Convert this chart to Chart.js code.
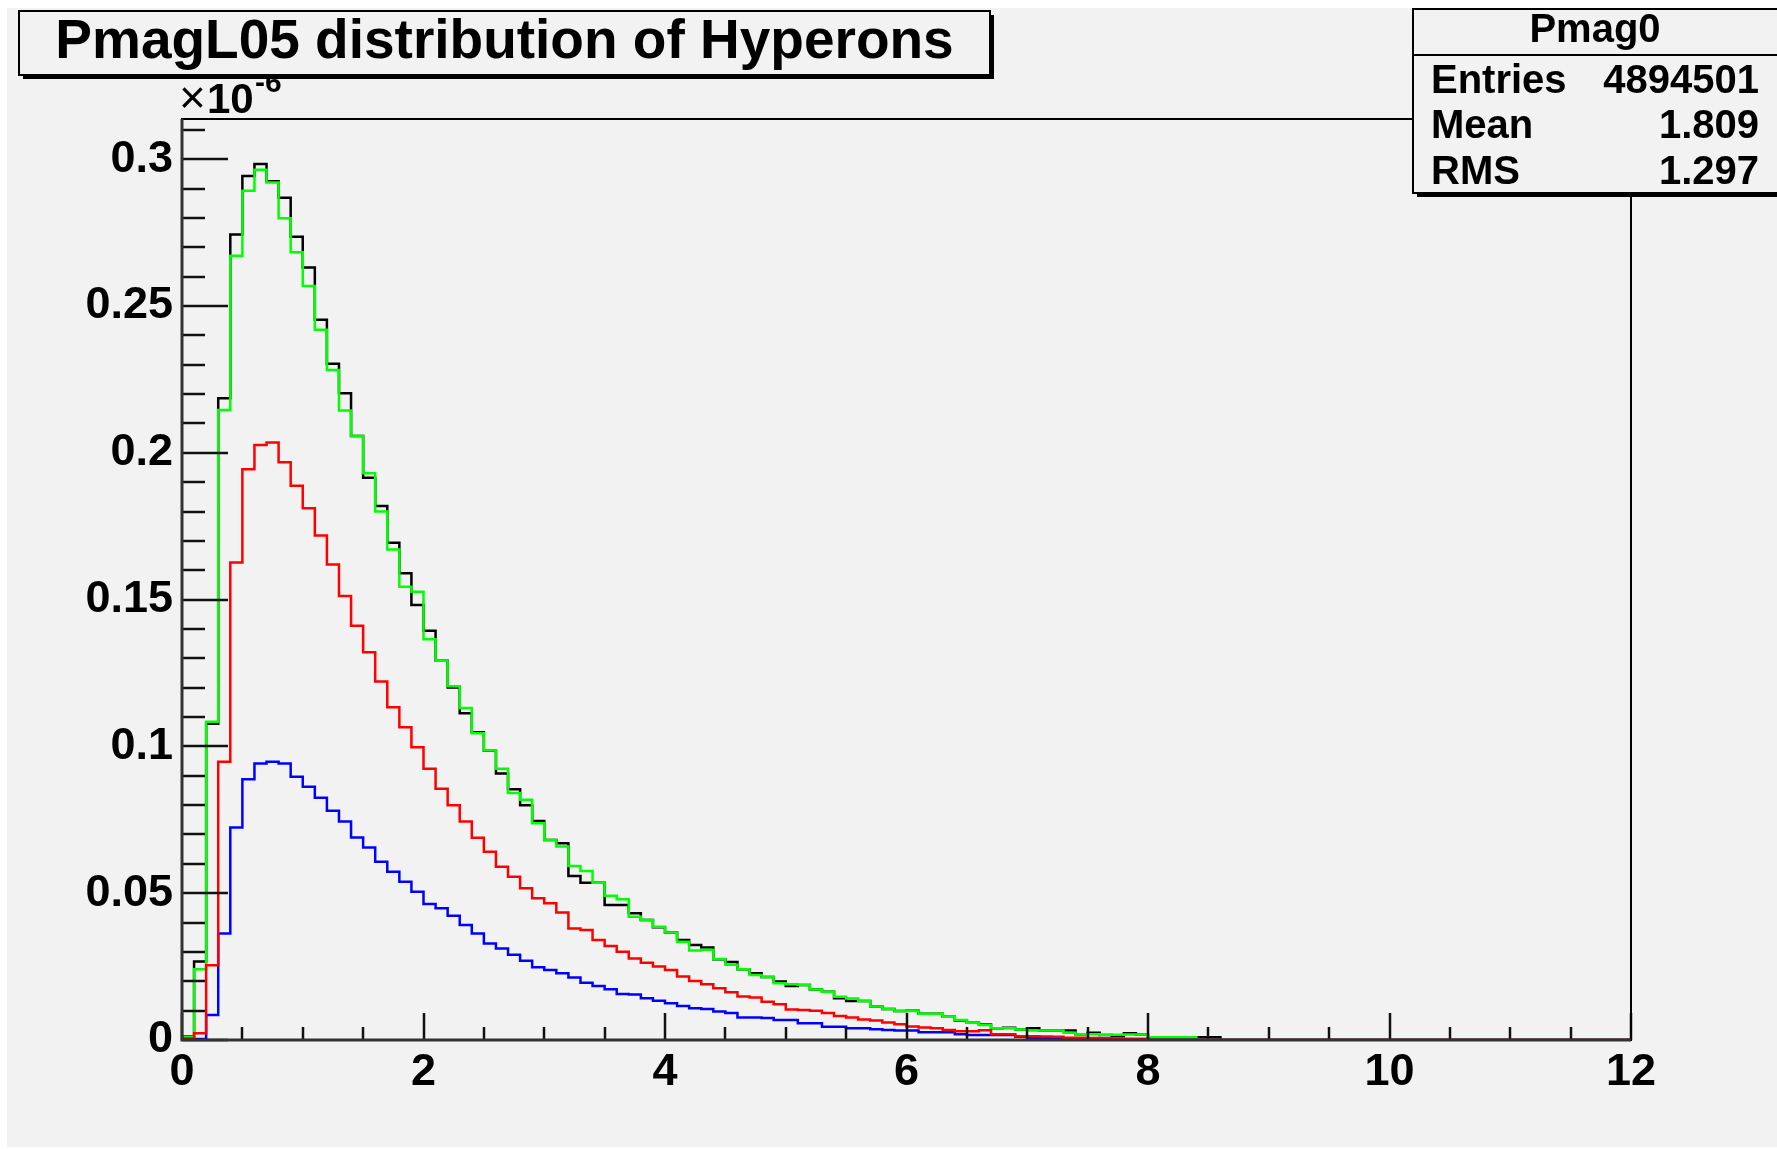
<!DOCTYPE html>
<html>
<head>
<meta charset="utf-8">
<title>PmagL05 distribution of Hyperons</title>
<script src="https://cdn.jsdelivr.net/npm/chart.js@4.4.0/dist/chart.umd.min.js"></script>
<style>
  html, body { margin: 0; padding: 0; background: #ffffff; }
  canvas { display: block; }
</style>
</head>
<body>
<canvas id="pmagChart" width="1777" height="1150"></canvas>
<script>
// histogram binning: 120 bins of 0.1 between 0 and 12
const xMin = 0;
const xMax = 12;
const binWidth = 0.1;
const yMax = 0.3137;

const xTickValues = [0, 2, 4, 6, 8, 10, 12];
const yTickValues = [0, 0.05, 0.1, 0.15, 0.2, 0.25, 0.3];

// bin contents (x10^-6), one entry per bin
const allHyperons = [
  0.0012, 0.0267, 0.1077, 0.2186, 0.2744, 0.2943, 0.2984, 0.2925, 0.2869, 0.2736,
  0.2631, 0.2453, 0.2303, 0.2203, 0.2057, 0.1915, 0.1819, 0.1694, 0.1590, 0.1482,
  0.1394, 0.1292, 0.1201, 0.1113, 0.1048, 0.0985, 0.0908, 0.0854, 0.0800, 0.0746,
  0.0681, 0.0670, 0.0559, 0.0536, 0.0536, 0.0460, 0.0460, 0.0432, 0.0409, 0.0384,
  0.0366, 0.0341, 0.0324, 0.0315, 0.0275, 0.0266, 0.0241, 0.0227, 0.0215, 0.0199,
  0.0184, 0.0187, 0.0172, 0.0164, 0.0142, 0.0133, 0.0133, 0.0114, 0.0106, 0.0099,
  0.0100, 0.0089, 0.0089, 0.0079, 0.0066, 0.0059, 0.0053, 0.0040, 0.0042, 0.0036,
  0.0040, 0.0032, 0.0032, 0.0032, 0.0020, 0.0025, 0.0017, 0.0014, 0.0023, 0.0019,
  0.0009, 0.0009, 0.0009, 0.0009, 0.0009, 0.0009, 0, 0, 0, 0,
  0, 0, 0, 0, 0, 0, 0, 0, 0, 0,
  0, 0, 0, 0, 0, 0, 0, 0, 0, 0,
  0, 0, 0, 0, 0, 0, 0, 0, 0, 0
];

const sumHyperons = [
  0.0010, 0.0241, 0.1084, 0.2146, 0.2671, 0.2893, 0.2964, 0.2921, 0.2799, 0.2683,
  0.2568, 0.2419, 0.2282, 0.2144, 0.2057, 0.1930, 0.1800, 0.1671, 0.1544, 0.1527,
  0.1365, 0.1292, 0.1205, 0.1131, 0.1045, 0.0986, 0.0924, 0.0841, 0.0818, 0.0738,
  0.0681, 0.0659, 0.0593, 0.0576, 0.0536, 0.0491, 0.0479, 0.0420, 0.0409, 0.0386,
  0.0366, 0.0335, 0.0305, 0.0307, 0.0276, 0.0256, 0.0241, 0.0221, 0.0215, 0.0193,
  0.0190, 0.0187, 0.0172, 0.0164, 0.0147, 0.0141, 0.0133, 0.0114, 0.0106, 0.0099,
  0.0099, 0.0089, 0.0089, 0.0079, 0.0068, 0.0059, 0.0051, 0.0040, 0.0040, 0.0036,
  0.0032, 0.0032, 0.0032, 0.0025, 0.0020, 0.0020, 0.0018, 0.0018, 0.0019, 0.0019,
  0.0009, 0.0009, 0.0009, 0.0009, 0, 0, 0, 0, 0, 0,
  0, 0, 0, 0, 0, 0, 0, 0, 0, 0,
  0, 0, 0, 0, 0, 0, 0, 0, 0, 0,
  0, 0, 0, 0, 0, 0, 0, 0, 0, 0
];

const lambdaPart = [
  0.0005, 0.0023, 0.0255, 0.0948, 0.1626, 0.1944, 0.2027, 0.2035, 0.1968, 0.1888,
  0.1811, 0.1718, 0.1620, 0.1512, 0.1411, 0.1321, 0.1221, 0.1133, 0.1065, 0.0997,
  0.0924, 0.0856, 0.0800, 0.0744, 0.0689, 0.0641, 0.0590, 0.0556, 0.0517, 0.0483,
  0.0466, 0.0434, 0.0380, 0.0375, 0.0341, 0.0320, 0.0301, 0.0278, 0.0263, 0.0250,
  0.0238, 0.0216, 0.0201, 0.0190, 0.0176, 0.0163, 0.0148, 0.0145, 0.0130, 0.0122,
  0.0104, 0.0102, 0.0100, 0.0092, 0.0082, 0.0077, 0.0070, 0.0066, 0.0060, 0.0054,
  0.0046, 0.0043, 0.0040, 0.0034, 0.0030, 0.0030, 0.0033, 0.0020, 0.0020, 0.0013,
  0.0013, 0.0012, 0.0011, 0.0008, 0.0008, 0.0007, 0.0006, 0.0005, 0.0003, 0.0003,
  0, 0, 0, 0, 0, 0, 0, 0, 0, 0,
  0, 0, 0, 0, 0, 0, 0, 0, 0, 0,
  0, 0, 0, 0, 0, 0, 0, 0, 0, 0,
  0, 0, 0, 0, 0, 0, 0, 0, 0, 0
];

const sigmaPart = [
  0, 0.0003, 0.0085, 0.0363, 0.0724, 0.0888, 0.0942, 0.0948, 0.0942, 0.0897,
  0.0863, 0.0825, 0.0781, 0.0744, 0.0690, 0.0656, 0.0607, 0.0573, 0.0539, 0.0505,
  0.0463, 0.0449, 0.0423, 0.0392, 0.0363, 0.0329, 0.0312, 0.0290, 0.0270, 0.0248,
  0.0238, 0.0227, 0.0213, 0.0195, 0.0184, 0.0173, 0.0157, 0.0155, 0.0142, 0.0134,
  0.0125, 0.0116, 0.0108, 0.0106, 0.0097, 0.0092, 0.0077, 0.0077, 0.0075, 0.0068,
  0.0068, 0.0057, 0.0057, 0.0045, 0.0045, 0.0040, 0.0040, 0.0037, 0.0034, 0.0032,
  0.0032, 0.0026, 0.0026, 0.0026, 0.0020, 0.0017, 0.0017, 0.0017, 0.0017, 0.0011,
  0.0006, 0.0006, 0.0006, 0.0003, 0.0003, 0.0003, 0.0003, 0.0003, 0.0003, 0.0003,
  0, 0, 0, 0, 0, 0, 0, 0, 0, 0,
  0, 0, 0, 0, 0, 0, 0, 0, 0, 0,
  0, 0, 0, 0, 0, 0, 0, 0, 0, 0,
  0, 0, 0, 0, 0, 0, 0, 0, 0, 0
];

const titleText = 'PmagL05 distribution of Hyperons';
const statsName = 'Pmag0';
const statsLabels = ['Entries', 'Mean', 'RMS'];
const statsValues = ['4894501', '1.809', '1.297'];

const FONT = '"Liberation Sans", Arial, Helvetica, sans-serif';
const BG = '#f2f2f2';

// turn bin contents into points at the low edge of each bin, closed at xMax
function toSteps(values) {
  const pts = values.map((v, i) => ({ x: xMin + i * binWidth, y: v }));
  pts.push({ x: xMax, y: values[values.length - 1] });
  return pts;
}

function histo(label, values, color, order) {
  return {
    label: label,
    data: toSteps(values),
    borderColor: color,
    backgroundColor: color,
    borderWidth: 2.5,
    stepped: 'before',
    pointRadius: 0,
    fill: false,
    order: order,
    borderJoinStyle: 'miter',
    borderCapStyle: 'butt'
  };
}

// ROOT-like canvas: grey pad, frame, inner ticks, title pave and stats box
const rootPad = {
  id: 'rootPad',
  beforeDraw(chart) {
    const ctx = chart.ctx;
    ctx.save();
    ctx.fillStyle = '#ffffff';
    ctx.fillRect(0, 0, chart.width, chart.height);
    ctx.fillStyle = BG;
    ctx.fillRect(7, 8, chart.width - 7, chart.height - 11);
    ctx.restore();
  },
  afterDatasetsDraw(chart) {
    const ctx = chart.ctx;
    const a = chart.chartArea;
    const xs = chart.scales.x;
    const ys = chart.scales.y;
    ctx.save();
    ctx.strokeStyle = '#111';
    ctx.lineWidth = 2.5;

    // y ticks, minor every 0.01, major every 0.05
    for (let k = 0; k <= 31; k++) {
      const py = Math.round(ys.getPixelForValue(k / 100));
      const len = k % 5 === 0 ? 46 : 23;
      ctx.beginPath();
      ctx.moveTo(a.left, py);
      ctx.lineTo(a.left + len, py);
      ctx.stroke();
    }
    // x ticks, minor every 0.5, major every 2
    for (let k = 0; k <= 24; k++) {
      const px = Math.round(xs.getPixelForValue(k * 0.5));
      const len = k % 4 === 0 ? 27 : 13;
      ctx.beginPath();
      ctx.moveTo(px, a.bottom);
      ctx.lineTo(px, a.bottom - len);
      ctx.stroke();
    }

    // frame
    ctx.strokeStyle = '#000';
    ctx.lineWidth = 2;
    ctx.strokeRect(a.left, a.top, a.right - a.left, a.bottom - a.top);
    ctx.lineWidth = 3;
    ctx.strokeStyle = '#333';
    ctx.beginPath();
    ctx.moveTo(a.left, a.top);
    ctx.lineTo(a.left, a.bottom);
    ctx.lineTo(a.right, a.bottom);
    ctx.stroke();

    // axis exponent
    ctx.fillStyle = '#000';
    ctx.textBaseline = 'alphabetic';
    ctx.textAlign = 'left';
    ctx.font = '46px ' + FONT;
    ctx.fillText('\u00d7', a.left - 3, a.top - 6);
    ctx.font = 'bold 42px ' + FONT;
    ctx.fillText('10', a.left + 25, a.top - 6);
    ctx.font = 'bold 30px ' + FONT;
    ctx.fillText('-6', a.left + 73, a.top - 27);
    ctx.restore();
  },
  afterDraw(chart) {
    const ctx = chart.ctx;
    ctx.save();

    // title pave with shadow
    const tx = 19, ty = 11, tw = 971, th = 64;
    ctx.fillStyle = '#000';
    ctx.fillRect(tx + 4, ty + th, tw, 4);
    ctx.fillRect(tx + tw, ty + 4, 4, th);
    ctx.fillStyle = BG;
    ctx.fillRect(tx, ty, tw, th);
    ctx.strokeStyle = '#000';
    ctx.lineWidth = 2;
    ctx.strokeRect(tx, ty, tw, th);
    ctx.fillStyle = '#000';
    ctx.font = 'bold 55px ' + FONT;
    ctx.textAlign = 'center';
    ctx.textBaseline = 'alphabetic';
    ctx.fillText(titleText, tx + tw / 2, 58);

    // stats box
    const sx = 1413, sy = 9, sw = 380, sh = 184;
    ctx.fillStyle = '#000';
    ctx.fillRect(sx + 4, sy + sh, sw, 4);
    ctx.fillStyle = BG;
    ctx.fillRect(sx, sy, sw, sh);
    ctx.strokeRect(sx, sy, sw, sh);
    ctx.beginPath();
    ctx.moveTo(sx, 55);
    ctx.lineTo(sx + sw, 55);
    ctx.stroke();

    ctx.fillStyle = '#000';
    ctx.font = 'bold 40px ' + FONT;
    ctx.textAlign = 'center';
    ctx.fillText(statsName, 1595, 42);
    const rowBase = [93, 138, 184];
    statsLabels.forEach((lab, i) => {
      ctx.textAlign = 'left';
      ctx.fillText(lab, 1431, rowBase[i]);
      ctx.textAlign = 'right';
      ctx.fillText(statsValues[i], 1759, rowBase[i]);
    });
    ctx.restore();
  }
};

const tickFont = { family: FONT, size: 45, weight: 'bold' };

new Chart(document.getElementById('pmagChart').getContext('2d'), {
  type: 'line',
  data: {
    datasets: [
      histo('all', allHyperons, '#000000', 4),
      histo('sum', sumHyperons, '#00ff00', 3),
      histo('sigma', sigmaPart, '#0000ff', 2),
      histo('lambda', lambdaPart, '#ff0000', 1)
    ]
  },
  options: {
    responsive: false,
    animation: false,
    events: [],
    layout: { padding: { top: 119, right: 146, left: 0, bottom: 0 } },
    plugins: {
      legend: { display: false },
      tooltip: { enabled: false },
      title: { display: false }
    },
    scales: {
      x: {
        type: 'linear',
        min: xMin,
        max: xMax,
        grid: { display: false, drawTicks: false },
        border: { display: false },
        afterBuildTicks: s => { s.ticks = xTickValues.map(v => ({ value: v })); },
        afterFit: s => { s.height = 110; s.paddingLeft = 0; s.paddingRight = 0; },
        ticks: {
          font: tickFont,
          color: '#000',
          padding: 6,
          maxRotation: 0,
          autoSkip: false,
          callback: v => String(v)
        }
      },
      y: {
        type: 'linear',
        min: 0,
        max: yMax,
        grid: { display: false, drawTicks: false },
        border: { display: false },
        afterBuildTicks: s => { s.ticks = yTickValues.map(v => ({ value: v })); },
        afterFit: s => { s.width = 182; s.paddingTop = 0; s.paddingBottom = 0; },
        ticks: {
          font: tickFont,
          color: '#000',
          padding: 9,
          autoSkip: false,
          callback: v => String(+v.toFixed(2))
        }
      }
    }
  },
  plugins: [rootPad]
});
</script>
</body>
</html>
